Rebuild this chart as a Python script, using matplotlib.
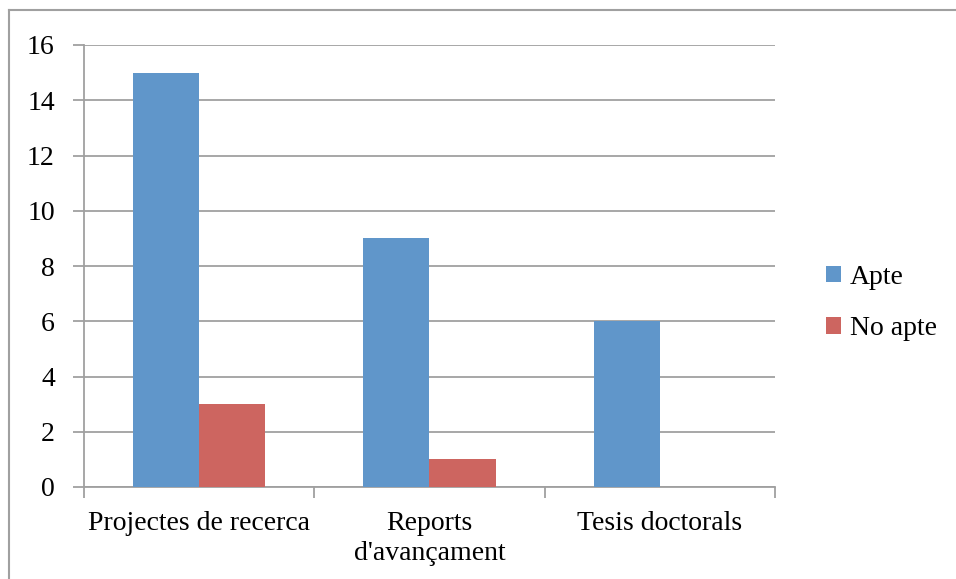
import numpy as np
import matplotlib.pyplot as plt
from matplotlib.lines import Line2D

categories = ["Projectes de recerca", "Reports\nd'avançament", "Tesis doctorals"]
apte = [15, 9, 6]
no_apte = [3, 1, 0]
yticks = [0, 2, 4, 6, 8, 10, 12, 14, 16]

blue = '#6096CA'
red = '#CD6560'
grey = '#A0A0A0'

plt.rcParams['font.family'] = ['Liberation Serif', 'DejaVu Serif']
fs = 20

W, H = 956, 579
fig = plt.figure(figsize=(W/100, H/100), dpi=100)
ax = fig.add_axes([84/W, 1-487/H, (775-84)/W, (487-45)/H])

xx = np.arange(len(categories))
bw = 0.287
ax.bar(xx - bw/2, apte, bw, color=blue, label='Apte', zorder=3)
ax.bar(xx + bw/2, no_apte, bw, color=red, label='No apte', zorder=3)

ax.set_xlim(-0.5, 2.5)
ax.set_ylim(0, 16)
ax.set_yticks(yticks)
ax.set_xticks([-0.5, 0.5, 1.5, 2.5])
ax.set_xticklabels([])
ax.set_xticks(xx, minor=True)
ax.set_xticklabels(categories, minor=True, fontsize=fs, linespacing=1.3)
ax.tick_params(axis='x', which='minor', length=0, pad=17)
ax.tick_params(axis='x', which='major', length=8, width=1.3, color=grey, direction='out')
ax.tick_params(axis='y', length=8, width=1.3, color=grey, labelsize=fs, pad=13)

ax.grid(axis='y', color=grey, linewidth=1.3, zorder=0)
ax.set_axisbelow(True)
for s in ['top', 'right']:
    ax.spines[s].set_visible(False)
for s in ['left', 'bottom']:
    ax.spines[s].set_color(grey)
    ax.spines[s].set_linewidth(1.3)

leg = fig.legend(loc='center left', bbox_to_anchor=(801/W, 1-303/H), frameon=False,
                 fontsize=fs, handlelength=0.55, handleheight=0.55,
                 handletextpad=0.3, labelspacing=0.95)

# outer frame of the chart
fig.add_artist(Line2D([9/W, 9/W], [0, 1-10/H], color=grey, lw=1.5))
fig.add_artist(Line2D([9/W, 1], [1-10/H, 1-10/H], color=grey, lw=1.5))

fig.savefig('out.png', dpi=100)
